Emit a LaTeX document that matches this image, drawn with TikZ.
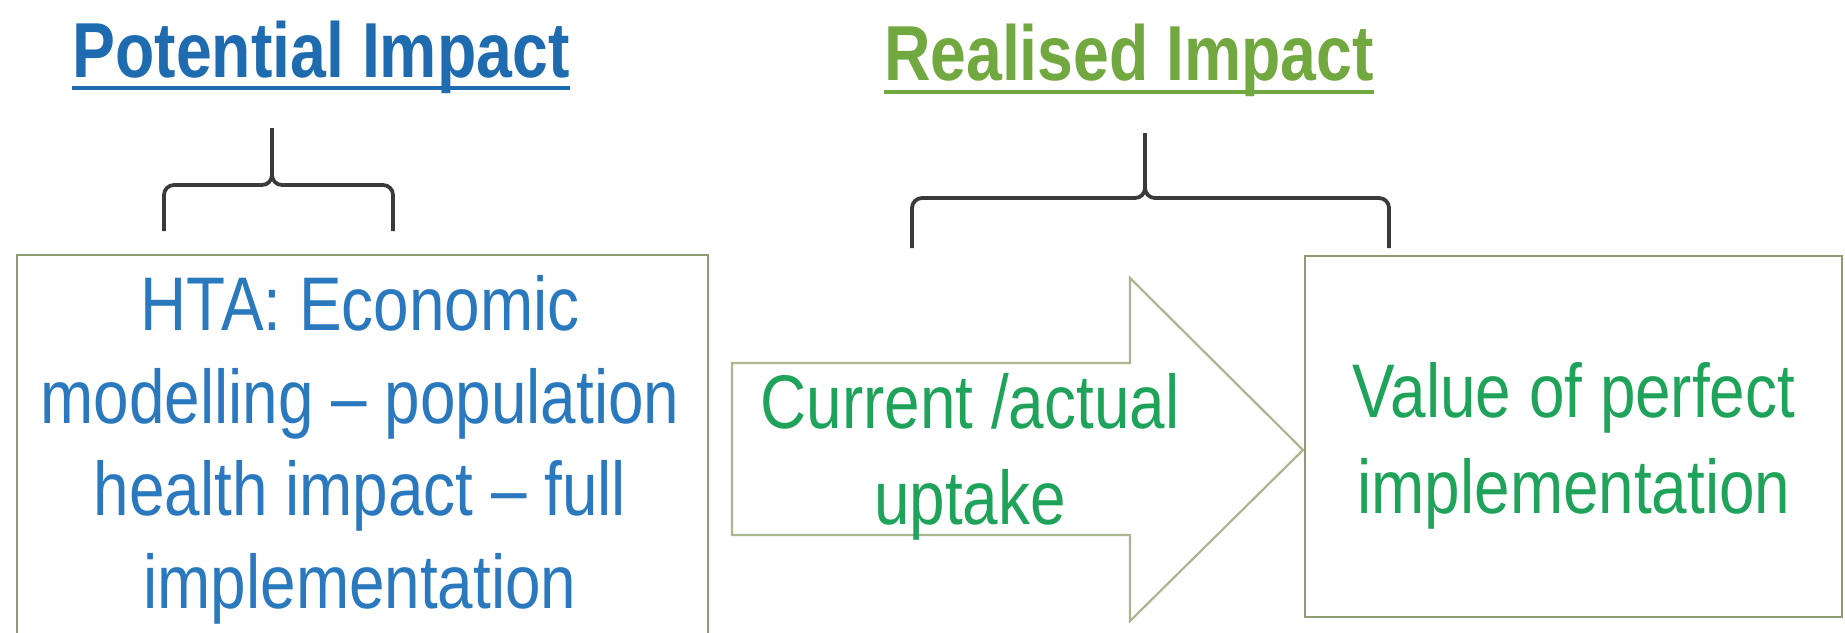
\documentclass[tikz,border=0pt]{standalone}
\usepackage{fontspec}
\setmainfont{Liberation Sans}[FakeStretch=0.84]
\newfontfamily\titlefamily{Liberation Sans}[FakeStretch=0.825]
\definecolor{titleblue}{HTML}{1E6BB0}
\definecolor{bodyblue}{HTML}{2A78BE}
\definecolor{titlegreen}{HTML}{71A83F}
\definecolor{bodygreen}{HTML}{1FA35A}
\definecolor{bracegray}{HTML}{3A3A3A}
\definecolor{boxgray}{HTML}{8F9B75}
\definecolor{arrowgray}{HTML}{A9B68E}
\begin{document}
\begin{tikzpicture}[x=0.5pt,y=-0.5pt,
  titletext/.style={font=\titlefamily\bfseries\fontsize{39}{42}\selectfont, inner sep=0pt, anchor=base},
  bodytext/.style={font=\fontsize{38}{48}\selectfont, align=center, inner sep=0pt},
  underlinestyle/.style={line width=2.2pt},
  boxframe/.style={draw=boxgray, line width=1.4pt},
  arrowframe/.style={draw=arrowgray, line width=1.1pt, line join=miter},
  bracestyle/.style={draw=bracegray, line width=1.9pt, rounded corners=5pt}]
\useasboundingbox (0,0) rectangle (1845,632);
\clip (0,0) rectangle (1845,632);
\fill[white] (0,0) rectangle (1845,632);

% titles
\node[titletext, text=titleblue] (t1) at (321,77) {Potential Impact};
\draw[underlinestyle, titleblue] ([yshift=-5.5pt]t1.base west) -- ([yshift=-5.5pt]t1.base east);
\node[titletext, text=titlegreen] (t2) at (1129,80) {Realised Impact};
\draw[underlinestyle, titlegreen] ([yshift=-6pt]t2.base west) -- ([yshift=-6pt]t2.base east);

% braces
\coordinate (lbl) at (164,231);
\coordinate (lbr) at (393,231);
\coordinate (lbt) at (272,128);
\draw[bracestyle] (lbl) -- (164,185) -- (272,185) -- (lbt);
\draw[bracestyle] (lbr) -- (393,185) -- (272,185) -- (lbt);
\coordinate (rbl) at (912,248);
\coordinate (rbr) at (1389,248);
\coordinate (rbt) at (1145,133);
\draw[bracestyle] (rbl) -- (912,198) -- (1145,198) -- (rbt);
\draw[bracestyle] (rbr) -- (1389,198) -- (1145,198) -- (rbt);

% left box
\draw[boxframe] (17,255) rectangle (708,650);
\node[bodytext, text=bodyblue, font=\fontsize{38}{46.3}\selectfont] (hta) at (360,450)
  {HTA: Economic\\modelling -- population\\health impact -- full\\implementation};

% arrow
\draw[arrowframe] (732,363) -- (1130,363) -- (1130,278) -- (1303,450)
  -- (1130,621) -- (1130,535) -- (732,535) -- cycle;
\node[bodytext, text=bodygreen] (uptake) at (970,457) {Current /actual\\uptake};

% right box
\draw[boxframe] (1305,256) rectangle (1842,617);
\node[bodytext, text=bodygreen] (vpi) at (1574,446) {Value of perfect\\implementation};
\end{tikzpicture}
\end{document}
